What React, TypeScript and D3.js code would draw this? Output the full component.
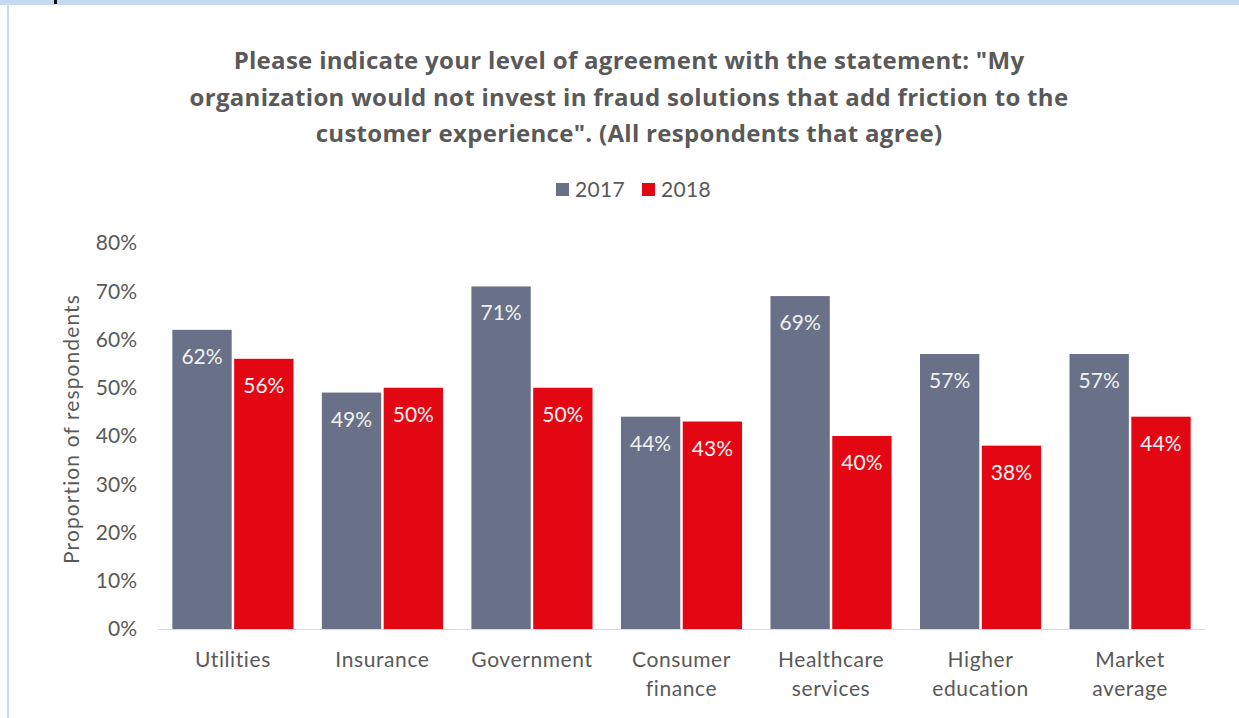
import React from "react";
import * as d3 from "d3";

const categories: string[][] = [
  ["Utilities"],
  ["Insurance"],
  ["Government"],
  ["Consumer", "finance"],
  ["Healthcare", "services"],
  ["Higher", "education"],
  ["Market", "average"],
];
const seriesNames = ["2017", "2018"];
const values2017 = [0.62, 0.49, 0.71, 0.44, 0.69, 0.57, 0.57];
const values2018 = [0.56, 0.5, 0.5, 0.43, 0.4, 0.38, 0.44];
const yTicks = [0, 0.1, 0.2, 0.3, 0.4, 0.5, 0.6, 0.7, 0.8];
const titleLines = [
  'Please indicate your level of agreement with the statement: "My',
  "organization would not invest in fraud solutions that add friction to the",
  'customer experience". (All respondents that agree)',
];

const W = 1239;
const H = 718;
const colors = ["#687188", "#e30613"];
const textColor = "#595959";
const font = "Lato, 'Open Sans', sans-serif";
const titleFont = "'Open Sans', Lato, sans-serif";

export default function App() {
  const keys = categories.map((c) => c.join(" "));
  const x0 = d3.scaleBand<string>().domain(keys).range([158, 1205]).paddingInner(0.19).paddingOuter(0.096);
  const x1 = d3.scaleBand<string>().domain(seriesNames).range([0, x0.bandwidth()]).paddingInner(0.04);
  const y = d3.scaleLinear().domain([0, 0.8]).range([629, 243]);
  const series = [values2017, values2018];
  const fmt = d3.format(".0%");

  return (
    <svg width={W} height={H} style={{ position: "absolute", left: 0, top: 0, background: "#fff" }} fontFamily={font}>
      <rect x={0} y={0} width={W} height={5} fill="#c6d9f0" />
      <rect x={7} y={0} width={2} height={H} fill="#c6d9f0" />
      <rect x={54} y={0} width={3} height={4} fill="#111" />

      {titleLines.map((t, i) => (
        <text key={i} x={629} y={69 + i * 36.5} textAnchor="middle" fontSize={24} fontWeight="bold" fill={textColor} fontFamily={titleFont} letterSpacing={0.3}>
          {t}
        </text>
      ))}

      {/* legend */}
      {seriesNames.map((s, i) => (
        <g key={s} transform={`translate(${556 + i * 86},0)`}>
          <rect x={0} y={183} width={13} height={13} fill={colors[i]} />
          <text x={19} y={197} fontSize={21} fill={textColor} letterSpacing={0.3}>
            {s}
          </text>
        </g>
      ))}

      {/* y axis ticks */}
      {yTicks.map((t) => (
        <text key={t} x={137} y={y(t)} dy="0.35em" textAnchor="end" fontSize={21} fill={textColor}>
          {fmt(t)}
        </text>
      ))}
      <text transform={`translate(79,429) rotate(-90)`} textAnchor="middle" fontSize={21} fill={textColor} letterSpacing={1.1}>
        Proportion of respondents
      </text>

      {/* bars */}
      {keys.map((k, ci) => (
        <g key={k} transform={`translate(${x0(k)},0)`}>
          {seriesNames.map((s, si) => {
            const v = series[si][ci];
            const bx = x1(s)!;
            const bw = x1.bandwidth();
            return (
              <g key={s}>
                <rect x={bx} y={y(v)} width={bw} height={y(0) - y(v)} fill={colors[si]} />
                <text x={bx + bw / 2} y={y(v) + 34} textAnchor="middle" fontSize={21} fill="#f2f2f2">
                  {fmt(v)}
                </text>
              </g>
            );
          })}
        </g>
      ))}

      <line x1={158} x2={1205} y1={629.5} y2={629.5} stroke="#d9d9d9" strokeWidth={1} />

      {/* category labels */}
      {categories.map((lines, ci) => (
        <g key={ci}>
          {lines.map((l, li) => (
            <text key={li} x={x0(keys[ci])! + x0.bandwidth() / 2} y={667 + li * 29} textAnchor="middle" fontSize={21} fill={textColor} letterSpacing={0.6}>
              {l}
            </text>
          ))}
        </g>
      ))}
    </svg>
  );
}
